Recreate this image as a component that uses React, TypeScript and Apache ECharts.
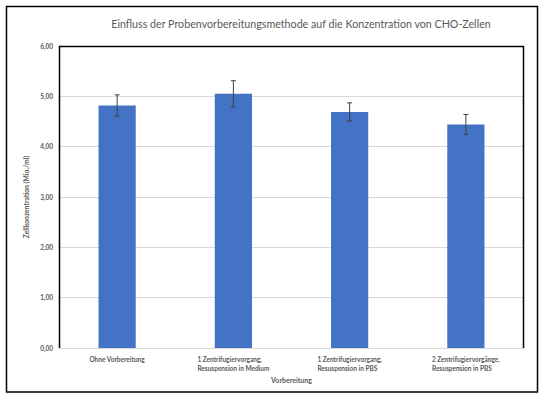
import React, { useEffect, useRef } from "react";
import * as echarts from "echarts";

const categories = [
  ["Ohne Vorbereitung"],
  ["1 Zentrifugiervorgang,", "Resuspension in Medium"],
  ["1 Zentrifugiervorgang,", "Resuspension in PBS"],
  ["2 Zentrifugiervorgänge,", "Resuspension in PBS"],
];
const means = [4.82, 5.05, 4.69, 4.44];
const errors = [0.21, 0.26, 0.18, 0.2];
const yTicks = [0, 1, 2, 3, 4, 5, 6];

const TITLE = "Einfluss der Probenvorbereitungsmethode auf die Konzentration von CHO-Zellen";
const FONT = "Lato, 'Open Sans', sans-serif";

export default function App() {
  const ref = useRef<HTMLDivElement>(null);
  useEffect(() => {
    document.body.style.margin = "0";
    if (!ref.current) return;
    const chart = echarts.init(ref.current, undefined, { renderer: "svg" });
    const catKeys = categories.map((c) => c.join("\n"));
    chart.setOption({
      animation: false,
      backgroundColor: "#ffffff",
      textStyle: { fontFamily: FONT },
      title: {
        text: TITLE,
        left: 296,
        top: 13,
        textAlign: "center",
        textStyle: { fontSize: 10.7, fontWeight: "normal", color: "#595959", fontFamily: FONT },
      },
      grid: { left: 59, right: 18, top: 46, bottom: 49 },
      xAxis: {
        type: "category",
        data: catKeys,
        name: "Vorbereitung",
        nameLocation: "middle",
        nameGap: 27,
        nameTextStyle: { fontSize: 7, fontWeight: "bold", color: "#595959" },
        axisLine: { show: true, lineStyle: { color: "#D9D9D9", width: 1 } },
        axisTick: { show: false },
        axisLabel: {
          margin: 7,
          interval: 0,
          formatter: (v: string) => v.split("\n").map((l) => `{l|${l}}`).join("\n"),
          rich: { l: { align: "left", fontSize: 6.5, fontWeight: "bold", color: "#595959", lineHeight: 9 } },
        },
      },
      yAxis: {
        type: "value",
        min: 0,
        max: 6,
        interval: 1,
        name: "Zellkonzentration (Mio./ml)",
        nameLocation: "middle",
        nameGap: 26,
        nameTextStyle: { fontSize: 6.8, fontWeight: "bold", color: "#595959" },
        axisLine: { show: false },
        axisTick: { show: false },
        axisLabel: {
          margin: 6,
          fontSize: 6.5,
          fontWeight: "bold",
          color: "#595959",
          formatter: (v: number) => v.toFixed(2).replace(".", ","),
        },
        splitLine: { lineStyle: { color: "#D9D9D9", width: 1 } },
      },
      series: [
        {
          type: "bar",
          data: means,
          barWidth: "32%",
          itemStyle: { color: "#4472C4" },
        },
        {
          type: "custom",
          data: means.map((m, i) => [i, m - errors[i], m + errors[i]]),
          z: 10,
          renderItem: (params: any, api: any) => {
            const x = api.value(0);
            const lo = api.coord([x, api.value(1)]);
            const hi = api.coord([x, api.value(2)]);
            const hw = 2.5;
            const style = { stroke: "#404040", lineWidth: 1 };
            return {
              type: "group",
              children: [
                { type: "line", shape: { x1: hi[0], y1: hi[1], x2: lo[0], y2: lo[1] }, style },
                { type: "line", shape: { x1: hi[0] - hw, y1: hi[1], x2: hi[0] + hw, y2: hi[1] }, style },
                { type: "line", shape: { x1: lo[0] - hw, y1: lo[1], x2: lo[0] + hw, y2: lo[1] }, style },
              ],
            };
          },
        },
      ],
      graphic: [
        {
          type: "rect",
          shape: { x: 6.5, y: 6.5, width: 531, height: 385.5 },
          style: { fill: "none", stroke: "#000000", lineWidth: 1.5 },
          silent: true,
        },
        {
          type: "polyline",
          shape: { points: [[59.5, 348], [59.5, 46.5], [523.5, 46.5], [523.5, 348]] },
          style: { fill: "none", stroke: "#000000", lineWidth: 1.5 },
          silent: true,
          z: 20,
        },
      ],
    });
    return () => chart.dispose();
  }, []);
  return <div ref={ref} style={{ width: 542, height: 397 }} />;
}
